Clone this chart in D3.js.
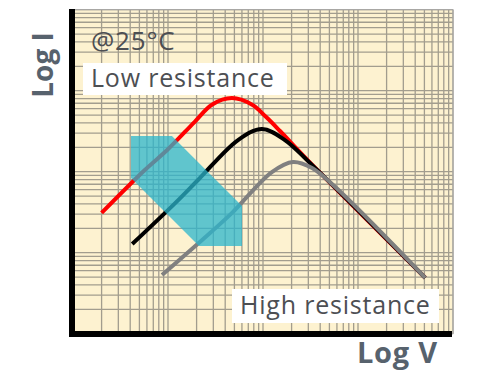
<!DOCTYPE html>
<html>
<head>
<meta charset="utf-8">
<script src="https://cdn.jsdelivr.net/npm/d3@7"></script>
<style>
  body { margin: 0; background: #fff; }
  text { font-family: "Open Sans", "Noto Sans", sans-serif; }
</style>
</head>
<body>
<div id="chart"></div>
<script>
// I-V curves on log-log paper (V, I)
var redCurve = [[2.0, 31], [5.7, 105], [9.8, 185], [19, 410], [29, 670], [47, 810],
                [77, 670], [108, 473], [151, 318], [300, 136], [5100, 4.9]];
var blackCurve = [[4.2, 12.8], [11.9, 41], [20.7, 79], [54.6, 246], [97.6, 337],
                  [170, 246], [300, 134], [5100, 4.9]];
var grayCurve = [[8.65, 5.3], [27.7, 17.5], [47.2, 31], [124, 99], [207, 132],
                 [328, 111], [573, 65], [5100, 4.9]];
var arrowPts = [[4.08, 276], [11.0, 276], [60.1, 37.7], [60.1, 12.1], [21.2, 12.1], [4.08, 83.6]];

var series = [
  {name: "Low resistance", values: redCurve, color: "#ff0000"},
  {name: "middle", values: blackCurve, color: "#000000"},
  {name: "High resistance", values: grayCurve, color: "#808080"}
];

var width = 500, height = 380;
var plotLeft = 73, plotRight = 453, plotTop = 9.7, plotBottom = 333.7;

var x = d3.scaleLog().domain([1, 10000]).range([plotLeft, plotRight]);
var y = d3.scaleLog().domain([1, 10000]).range([plotBottom, plotTop]);

var svg = d3.select("#chart").append("svg")
    .attr("width", width)
    .attr("height", height);

// paper
svg.append("rect")
    .attr("x", plotLeft).attr("y", plotTop)
    .attr("width", plotRight - plotLeft).attr("height", plotBottom - plotTop)
    .style("fill", "#fdf2d0");

svg.append("g").selectAll("line")
    .data(x.ticks())
    .enter().append("line")
    .attr("x1", function(d) { return x(d); })
    .attr("x2", function(d) { return x(d); })
    .attr("y1", plotTop).attr("y2", plotBottom)
    .style("stroke", "#a29d8e").style("stroke-width", 1.3);

svg.append("g").selectAll("line")
    .data(y.ticks())
    .enter().append("line")
    .attr("y1", function(d) { return y(d); })
    .attr("y2", function(d) { return y(d); })
    .attr("x1", plotLeft).attr("x2", plotRight)
    .style("stroke", "#a29d8e").style("stroke-width", 1.3);

svg.append("rect")
    .attr("x", plotLeft).attr("y", plotTop)
    .attr("width", plotRight - plotLeft).attr("height", plotBottom - plotTop)
    .style("fill", "none").style("stroke", "#aaa").style("stroke-width", 1);

// curves
var line = d3.line()
    .x(function(d) { return x(d[0]); })
    .y(function(d) { return y(d[1]); })
    .curve(d3.curveCatmullRom.alpha(0.5));

svg.selectAll(".curve")
    .data(series)
    .enter().append("path")
    .attr("class", "curve")
    .attr("d", function(d) { return line(d.values); })
    .style("fill", "none")
    .style("stroke", function(d) { return d.color; })
    .style("stroke-width", 4);

// arrow
svg.append("path")
    .attr("d", d3.line()
        .x(function(d) { return x(d[0]); })
        .y(function(d) { return y(d[1]); })(arrowPts) + "Z")
    .style("fill", "#2bb5cc")
    .style("opacity", 0.75);

// labels
svg.append("text")
    .attr("x", 91).attr("y", 50)
    .style("font-size", "26px").style("letter-spacing", "0.8px").style("fill", "#4d4f53")
    .text("@25°C");

svg.append("rect")
    .attr("x", 83).attr("y", 63).attr("width", 204).attr("height", 32)
    .style("fill", "#fff");
svg.append("text")
    .attr("x", 91).attr("y", 87)
    .style("font-size", "25px").style("letter-spacing", "0.8px").style("fill", "#4d4f53")
    .text("Low resistance");

svg.append("rect")
    .attr("x", 232).attr("y", 289).attr("width", 207).attr("height", 34)
    .style("fill", "#fff");
svg.append("text")
    .attr("x", 240).attr("y", 314)
    .style("font-size", "25px").style("letter-spacing", "0.8px").style("fill", "#4d4f53")
    .text("High resistance");

// axes
svg.append("line")
    .attr("x1", 72).attr("x2", 72).attr("y1", 9).attr("y2", 337)
    .style("stroke", "#000").style("stroke-width", 6);
svg.append("line")
    .attr("x1", 69).attr("x2", 452).attr("y1", 334).attr("y2", 334)
    .style("stroke", "#000").style("stroke-width", 6);

svg.append("text")
    .attr("transform", "translate(53,65) rotate(-90)")
    .style("text-anchor", "middle")
    .style("font-size", "28px").style("font-weight", "bold").style("fill", "#57626d")
    .text("Log I");

svg.append("text")
    .attr("x", 438).attr("y", 363)
    .style("text-anchor", "end")
    .style("font-size", "29px").style("letter-spacing", "0.8px")
    .style("font-weight", "bold").style("fill", "#57626d")
    .text("Log V");
</script>
</body>
</html>
